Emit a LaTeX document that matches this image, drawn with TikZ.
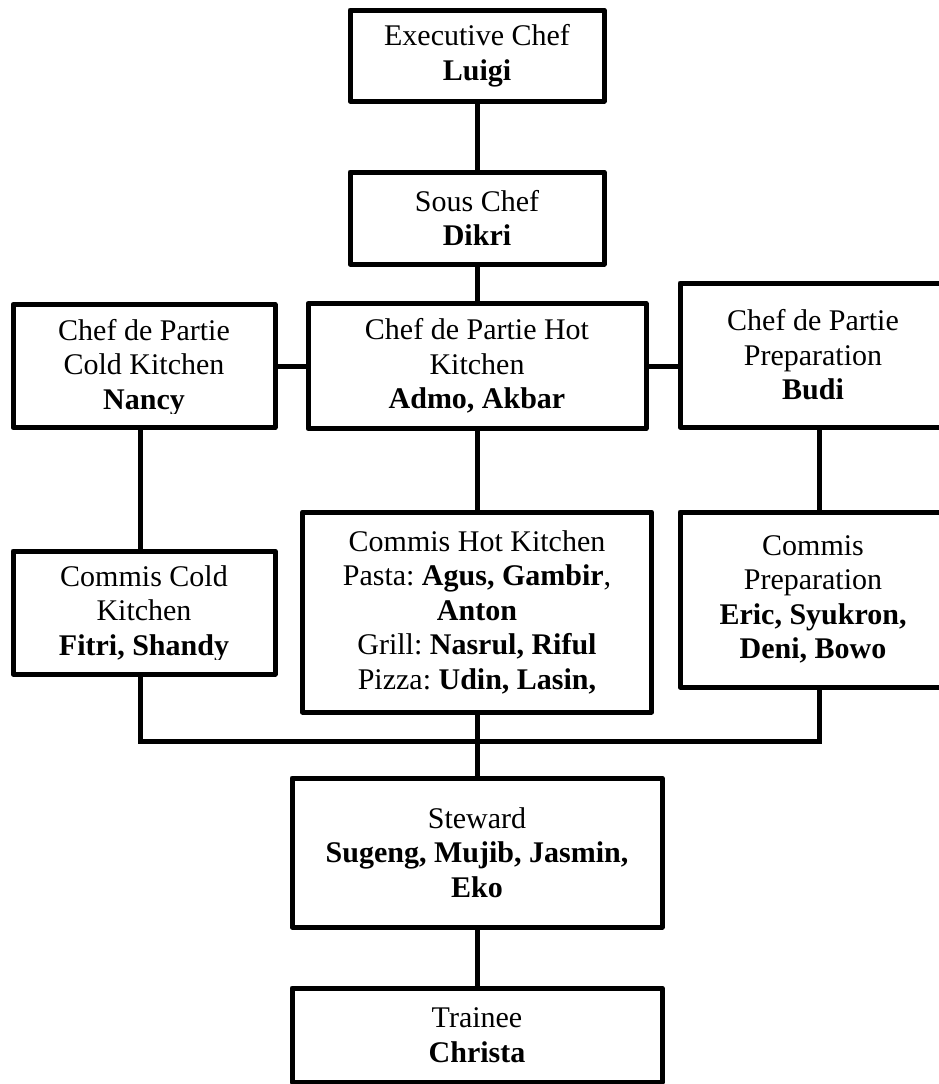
\documentclass[tikz,border=0pt]{standalone}
\usepackage{fontspec}
\usepackage{trimclip}
\setmainfont{Liberation Serif}
\newcommand{\cutname}[1]{\clipbox{0pt 2.5pt 0pt 0pt}{\textbf{#1}}}
\begin{document}
\begin{tikzpicture}[x = 1pt, y = -1pt,
  post/.style = {draw, line width = 5pt, line join = round, inner sep = 0pt,
    align = center, font = \fontsize{30}{34.5}\selectfont\frenchspacing},
  link/.style = {line width = 5pt}]
\useasboundingbox (0,0) rectangle (939,1084);
\begin{scope}
\node[post, minimum width = 254pt, minimum height = 91pt] (exec) at (477,55.5) {Executive Chef\\\textbf{Luigi}};
\node[post, minimum width = 254pt, minimum height = 92pt] (sous) at (477,218) {Sous Chef\\\textbf{Dikri}};
\node[post, minimum width = 262pt, minimum height = 123pt] (cold) at (144,366) {Chef de Partie\\Cold Kitchen\\\cutname{Nancy}};
\node[post, minimum width = 338pt, minimum height = 125pt] (hot) at (477,366) {Chef de Partie Hot\\Kitchen\\\textbf{Admo, Akbar}};
\node[post, minimum width = 266pt, minimum height = 144pt] (prep) at (813,355) {Chef de Partie\\Preparation\\\textbf{Budi}};
\node[post, minimum width = 262pt, minimum height = 123pt] (commiscold) at (144,612.5) {Commis Cold\\Kitchen\\\cutname{Fitri, Shandy}};
\node[post, minimum width = 349pt, minimum height = 200pt] (commishot) at (477,612) {Commis Hot Kitchen\\Pasta: \textbf{Agus, Gambir}, \\\textbf{Anton}\\Grill: \textbf{Nasrul, Riful}\\Pizza: \textbf{Udin, Lasin,}};
\node[post, minimum width = 266pt, minimum height = 175pt] (commisprep) at (813,599.5) {Commis\\Preparation\\\textbf{Eric, Syukron,}\\\textbf{Deni, Bowo}};
\node[post, minimum width = 370pt, minimum height = 149pt] (steward) at (477,852.5) {Steward\\\textbf{Sugeng, Mujib, Jasmin,}\\\textbf{Eko}};
\node[post, minimum width = 370pt, minimum height = 94pt] (trainee) at (477,1035) {Trainee\\\textbf{Christa}};
\coordinate (busl) at (140,741);
\coordinate (busr) at (819,741);
\draw[link] (exec) -- (sous);
\draw[link] (sous) -- (hot);
\draw[link] (cold) -- (hot);
\draw[link] (hot.east) -- (hot.east -| prep.west);
\draw[link] (cold.south -| busl) -- (commiscold.north -| busl);
\draw[link] (hot) -- (commishot);
\draw[link] (prep.south -| busr) -- (commisprep.north -| busr);
\draw[link] (commiscold.south -| busl) -- (busl) -- (busr) -- (commisprep.south -| busr);
\draw[link] (commishot) -- (steward);
\draw[link] (steward) -- (trainee);
\end{scope}
\end{tikzpicture}
\end{document}
